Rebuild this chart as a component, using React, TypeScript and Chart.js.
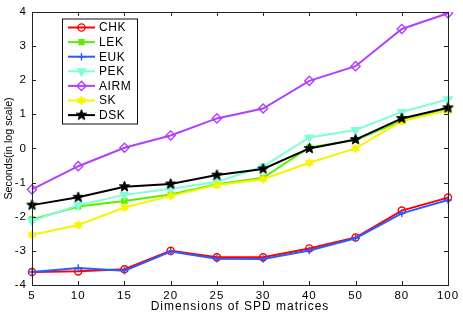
import React, { useEffect, useRef } from "react";
import { Chart, registerables } from "chart.js";
import { drawPoint } from "chart.js/helpers";

Chart.register(...registerables);

const categories = ["5", "10", "15", "20", "25", "30", "40", "50", "80", "100"];
const yTicks = [-4, -3, -2, -1, 0, 1, 2, 3, 4];

const CHK = [-3.62, -3.6, -3.54, -3.0, -3.19, -3.19, -2.93, -2.61, -1.82, -1.44];
const LEK = [-2.08, -1.7, -1.54, -1.35, -1.05, -0.86, 0.03, 0.25, 0.81, 1.15];
const EUK = [-3.62, -3.5, -3.58, -3.02, -3.23, -3.24, -2.99, -2.63, -1.9, -1.51];
const PEK = [-2.12, -1.66, -1.36, -1.18, -0.98, -0.53, 0.32, 0.54, 1.07, 1.44];
const AIRM = [-1.2, -0.52, 0.02, 0.38, 0.88, 1.17, 1.98, 2.41, 3.5, 3.96];
const SK = [-2.53, -2.24, -1.73, -1.39, -1.07, -0.9, -0.42, 0.0, 0.8, 1.12];
const DSK = [-1.66, -1.43, -1.12, -1.04, -0.78, -0.6, 0.0, 0.26, 0.88, 1.19];

const seriesNames = ["CHK", "LEK", "EUK", "PEK", "AIRM", "SK", "DSK"];
const seriesData = [CHK, LEK, EUK, PEK, AIRM, SK, DSK];
const seriesColors = ["#ff0000", "#5cee00", "#2a5cff", "#7fffd8", "#b040ff", "#f5f500", "#000000"];

const FONT = "'Liberation Sans', Arial, Helvetica, sans-serif";

function makeStar(points: number, outer: number, inner: number, color: string) {
  const size = Math.ceil(outer * 2 + 2);
  const c = document.createElement("canvas");
  c.width = size;
  c.height = size;
  const ctx = c.getContext("2d")!;
  const cx = size / 2;
  const cy = size / 2;
  ctx.beginPath();
  for (let i = 0; i < points * 2; i++) {
    const r = i % 2 === 0 ? outer : inner;
    const a = -Math.PI / 2 + (i * Math.PI) / points;
    const x = cx + r * Math.cos(a);
    const y = cy + r * Math.sin(a);
    if (i === 0) ctx.moveTo(x, y);
    else ctx.lineTo(x, y);
  }
  ctx.closePath();
  ctx.fillStyle = color;
  ctx.fill();
  ctx.strokeStyle = color;
  ctx.lineWidth = 1;
  ctx.stroke();
  return c;
}

export default function App() {
  const ref = useRef<HTMLCanvasElement>(null);

  useEffect(() => {
    if (!ref.current) return;
    const pentagram = makeStar(5, 5.5, 2.3, "#000000");
    const hexagram = makeStar(6, 4.5, 2.4, "#f5f500");

    const styles: any[] = [
      { pointStyle: "circle", radius: 3.6, fill: "rgba(0,0,0,0)", rot: 0 },
      { pointStyle: "rect", radius: 3.4, fill: seriesColors[1], rot: 0 },
      { pointStyle: "cross", radius: 3.8, fill: seriesColors[2], rot: 0 },
      { pointStyle: "triangle", radius: 4.6, fill: seriesColors[3], rot: 180 },
      { pointStyle: "rectRot", radius: 4.6, fill: "rgba(0,0,0,0)", rot: 0 },
      { pointStyle: hexagram, radius: 4.5, fill: seriesColors[5], rot: 0 },
      { pointStyle: pentagram, radius: 5, fill: "#000000", rot: 0 },
    ];

    const datasets = seriesNames.map((name, i) => ({
      label: name,
      data: seriesData[i],
      borderColor: seriesColors[i],
      backgroundColor: styles[i].fill,
      borderWidth: 2,
      pointStyle: styles[i].pointStyle,
      pointRadius: styles[i].radius,
      pointRotation: styles[i].rot,
      pointBorderWidth: 1.4,
      pointBorderColor: seriesColors[i],
      pointBackgroundColor: styles[i].fill,
      tension: 0,
      fill: false,
      order: seriesNames.length - i,
    }));

    const framePlugin = {
      id: "frame",
      beforeDraw(chart: any) {
        (chart.ctx as any).letterSpacing = "1px";
      },
      afterDatasetsDraw(chart: any) {
        const { ctx, chartArea: a, scales } = chart;
        ctx.save();
        (ctx as any).letterSpacing = "0px";
        ctx.strokeStyle = "#222";
        ctx.lineWidth = 1;
        ctx.strokeRect(Math.round(a.left) + 0.5, Math.round(a.top) + 0.5, Math.round(a.right - a.left), Math.round(a.bottom - a.top));
        const tl = 4;
        ctx.beginPath();
        categories.forEach((_, i) => {
          const x = Math.round(scales.x.getPixelForValue(i)) + 0.5;
          ctx.moveTo(x, a.bottom);
          ctx.lineTo(x, a.bottom - tl);
          ctx.moveTo(x, a.top);
          ctx.lineTo(x, a.top + tl);
        });
        yTicks.forEach((v) => {
          const y = Math.round(scales.y.getPixelForValue(v)) + 0.5;
          ctx.moveTo(a.left, y);
          ctx.lineTo(a.left + tl, y);
          ctx.moveTo(a.right, y);
          ctx.lineTo(a.right - tl, y);
        });
        ctx.stroke();

        // legend
        const bx = 62, by = 18.5, bw = 75, bh = 105;
        ctx.fillStyle = "#ffffff";
        ctx.fillRect(bx, by, bw, bh);
        ctx.strokeStyle = "#111";
        ctx.strokeRect(bx + 0.5, by + 0.5, bw, bh);
        ctx.font = `12px ${FONT}`;
        (ctx as any).letterSpacing = "0.6px";
        ctx.textBaseline = "middle";
        ctx.textAlign = "left";
        seriesNames.forEach((name, i) => {
          const y = 27.5 + i * 14.6;
          ctx.strokeStyle = seriesColors[i];
          ctx.lineWidth = 2;
          ctx.beginPath();
          ctx.moveTo(68, y);
          ctx.lineTo(95, y);
          ctx.stroke();
          ctx.lineWidth = 1.4;
          ctx.fillStyle = styles[i].fill;
          drawPoint(ctx, {
            pointStyle: styles[i].pointStyle,
            radius: styles[i].radius,
            rotation: styles[i].rot,
            borderWidth: 1.4,
          } as any, 81.5, y);
          ctx.fillStyle = "#000";
          ctx.fillText(name, 99, y + 0.5);
        });
        ctx.restore();
      },
    };

    const chart = new Chart(ref.current, {
      type: "line",
      data: { labels: categories, datasets },
      options: {
        animation: false,
        responsive: true,
        maintainAspectRatio: false,
        layout: { padding: { top: 10, right: 15, left: 0, bottom: 0 } },
        plugins: {
          legend: { display: false },
          tooltip: { enabled: false },
        },
        scales: {
          x: {
            type: "category",
            offset: false,
            grid: { display: false, drawTicks: false },
            border: { display: false },
            ticks: {
              color: "#000",
              font: { family: FONT, size: 11.5 },
              padding: 4,
              maxRotation: 0,
              autoSkip: false,
            },
            title: {
              display: true,
              text: "Dimensions of SPD matrices",
              color: "#000",
              font: { family: FONT, size: 12 },
              padding: { top: 0, bottom: 2 },
            },
            afterFit(scale: any) {
              scale.height = 31;
            },
          },
          y: {
            type: "linear",
            min: -4,
            max: 4,
            afterBuildTicks(scale: any) {
              scale.ticks = yTicks.map((v) => ({ value: v }));
            },
            grid: { display: false, drawTicks: false },
            border: { display: false },
            ticks: {
              color: "#000",
              font: { family: FONT, size: 11.5 },
              padding: 5,
            },
            title: {
              display: true,
              text: "Seconds(in log scale)",
              color: "#000",
              font: { family: FONT, size: 10.7 },
              padding: { top: 3, bottom: 0 },
            },
            afterFit(scale: any) {
              scale.width = 32;
            },
          },
        },
      },
      plugins: [framePlugin],
    });

    // draw y-axis title without letter spacing
    const ys: any = chart.scales.y;
    const orig = ys.drawTitle.bind(ys);
    ys.drawTitle = function (...args: any[]) {
      const c: any = this.ctx;
      const prev = c.letterSpacing;
      c.letterSpacing = "0px";
      orig(...args);
      c.letterSpacing = prev;
    };
    chart.draw();

    return () => chart.destroy();
  }, []);

  return (
    <div style={{ position: "fixed", left: 0, top: 0, width: 463, height: 316, background: "#fff" }}>
      <canvas ref={ref} />
    </div>
  );
}
